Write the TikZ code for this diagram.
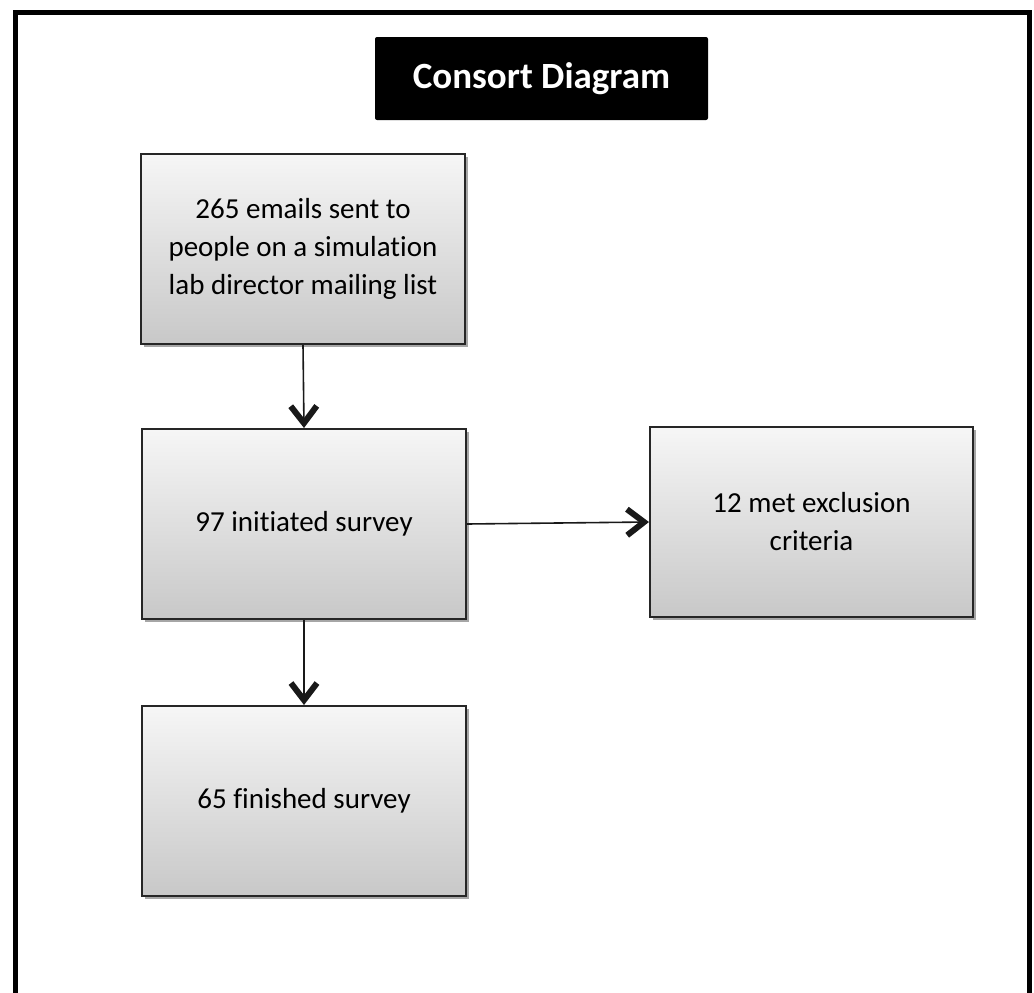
\documentclass[tikz,border=0pt]{standalone}
\usepackage{fontspec}
\setmainfont{Carlito}[Ligatures={NoCommon}]
\usetikzlibrary{arrows.meta,shadows,positioning}
\begin{document}
\begin{tikzpicture}[x=1pt,y=-1pt,
  flowbox/.style={draw=black!85, line width=2pt, rectangle, minimum width=324pt, minimum height=190pt,
    inner sep=0pt, top color={rgb,255:red,246;green,246;blue,246}, bottom color={rgb,255:red,200;green,200;blue,200},
    drop shadow={shadow xshift=3pt, shadow yshift=-3pt, opacity=0.35, fill=black},
    align=center, font=\fontsize{29}{38}\selectfont, text=black},
  titlebox/.style={fill=black, rounded corners=2pt, minimum width=333pt, minimum height=83pt,
    inner sep=0pt, text=white, font=\bfseries\fontsize{37}{40}\selectfont},
  flowarrow/.style={line width=1.6pt, draw=black!90,
    -{Straight Barb[length=17pt, width=26pt, line width=6pt]}}
]
\useasboundingbox (0,0) rectangle (1034,993);
\draw[line width=5pt] (15.5,1000) -- (15.5,12.5) -- (1029,12.5) -- (1029,1000);
\node[titlebox] (title) at (541.5,78.5) {Consort Diagram};
\node[flowbox] (b1) at (303,249) {265 emails sent to\\people on a simulation\\lab director mailing list};
\node[flowbox] (b2) at (304,524) {97 initiated survey};
\node[flowbox, minimum width=323pt] (b3) at (811.5,522) {12 met exclusion\\criteria};
\node[flowbox] (b4) at (304,801) {65 finished survey};
\draw[flowarrow] (b1.south) -- (b2.north);
\draw[flowarrow] (b2.east) -- (b3.west);
\draw[flowarrow] (b2.south) -- (b4.north);
\end{tikzpicture}
\end{document}
